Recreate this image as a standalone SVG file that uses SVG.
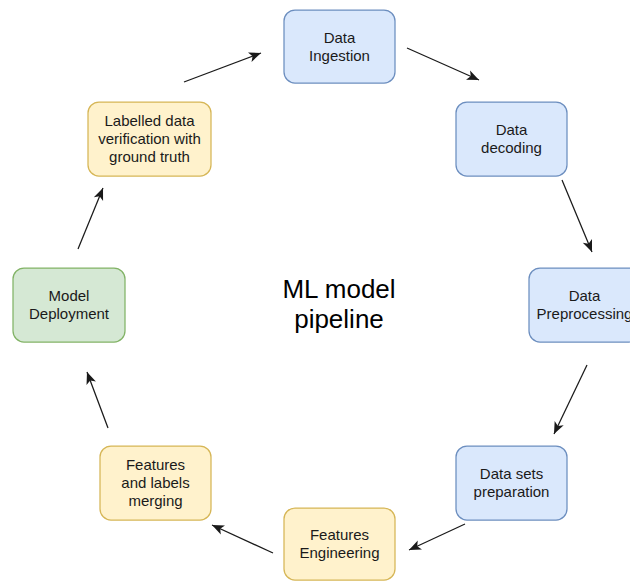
<svg xmlns="http://www.w3.org/2000/svg" width="630" height="581" viewBox="0 0 630 581">
  <style>
    .box { stroke-width: 1.25; }
    .blue { fill: #dae8fc; stroke: #6c8ebf; }
    .yellow { fill: #fff2cc; stroke: #d6b656; }
    .green { fill: #d5e8d4; stroke: #82b366; }
    .lbl { font-family: "Liberation Sans", Arial, sans-serif; font-size: 15px; fill: #1a1a1a; text-anchor: middle; }
    .title { font-family: "Liberation Sans", Arial, sans-serif; font-size: 26px; fill: #000; text-anchor: middle; }
    .edge { stroke: #1a1a1a; stroke-width: 1.25; fill: none; marker-end: url(#arrow); }
  </style>
  <defs>
    <marker id="arrow" markerUnits="userSpaceOnUse" markerWidth="14" markerHeight="12" viewBox="0 0 14 12" refX="13" refY="6" orient="auto">
      <path d="M1,1 L13,6 L1,11 L4,6 Z" fill="#1a1a1a"/>
    </marker>
  </defs>
  <rect width="630" height="581" fill="#ffffff"/>

  <g id="connectors">
    <line class="edge" x1="407" y1="48" x2="479" y2="80"/>
    <line class="edge" x1="562" y1="180" x2="592" y2="252"/>
    <line class="edge" x1="587" y1="365" x2="554" y2="434"/>
    <line class="edge" x1="465" y1="524" x2="409" y2="550"/>
    <line class="edge" x1="273" y1="553" x2="212" y2="525"/>
    <line class="edge" x1="108" y1="428" x2="87" y2="372"/>
    <line class="edge" x1="78" y1="249" x2="103" y2="188"/>
    <line class="edge" x1="184" y1="82" x2="261" y2="53"/>
  </g>

  <g id="data-ingestion">
    <rect class="box blue" x="284" y="10" width="111" height="73" rx="11"/>
    <text class="lbl" x="339.5" y="42.5">Data</text>
    <text class="lbl" x="339.5" y="60.5">Ingestion</text>
  </g>
  <g id="data-decoding">
    <rect class="box blue" x="456" y="102" width="111" height="74" rx="11"/>
    <text class="lbl" x="511.5" y="135">Data</text>
    <text class="lbl" x="511.5" y="153">decoding</text>
  </g>
  <g id="data-preprocessing">
    <rect class="box blue" x="529" y="268" width="111" height="74" rx="11"/>
    <text class="lbl" x="584.5" y="301">Data</text>
    <text class="lbl" x="584.5" y="319">Preprocessing</text>
  </g>
  <g id="data-sets-preparation">
    <rect class="box blue" x="456" y="446" width="111" height="74" rx="11"/>
    <text class="lbl" x="511.5" y="479">Data sets</text>
    <text class="lbl" x="511.5" y="497">preparation</text>
  </g>
  <g id="features-engineering">
    <rect class="box yellow" x="284" y="508" width="111" height="72" rx="11"/>
    <text class="lbl" x="339.5" y="540">Features</text>
    <text class="lbl" x="339.5" y="558">Engineering</text>
  </g>
  <g id="features-labels-merging">
    <rect class="box yellow" x="100" y="446" width="111" height="74" rx="11"/>
    <text class="lbl" x="155.5" y="470">Features</text>
    <text class="lbl" x="155.5" y="488">and labels</text>
    <text class="lbl" x="155.5" y="506">merging</text>
  </g>
  <g id="model-deployment">
    <rect class="box green" x="13" y="268" width="112" height="74" rx="11"/>
    <text class="lbl" x="69" y="301">Model</text>
    <text class="lbl" x="69" y="319">Deployment</text>
  </g>
  <g id="labelled-data-verification">
    <rect class="box yellow" x="88" y="102" width="123" height="74" rx="11"/>
    <text class="lbl" x="149.5" y="126">Labelled data</text>
    <text class="lbl" x="149.5" y="144">verification with</text>
    <text class="lbl" x="149.5" y="162">ground truth</text>
  </g>

  <g id="title">
    <text class="title" x="339" y="298">ML model</text>
    <text class="title" x="339" y="328">pipeline</text>
  </g>
</svg>
